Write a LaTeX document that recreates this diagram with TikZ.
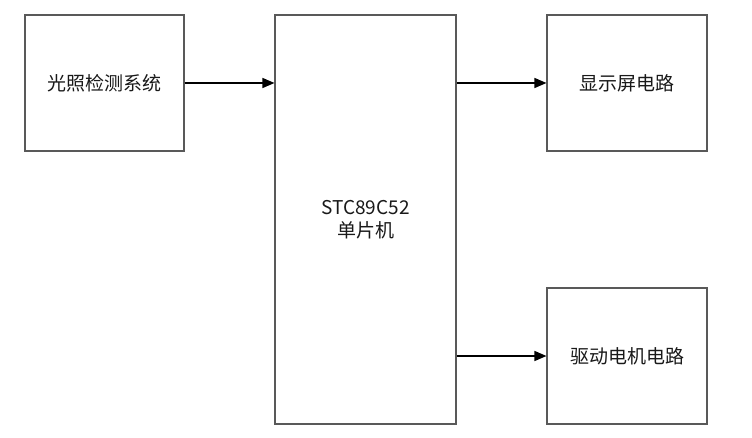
\documentclass[tikz,border=0pt]{standalone}
\usepackage{fontspec}
\setmainfont{Noto Sans CJK SC}
\usetikzlibrary{arrows.meta}
\begin{document}
\begin{tikzpicture}[x=1pt,y=-1pt,
  blk/.style={draw=black!65,line width=1.1pt,fill=white,inner sep=0pt,align=center,
    font=\fontsize{19}{23.5}\selectfont,text=black!90},
  arr/.style={draw=black,line width=1.3pt,-{Triangle[length=12pt,width=10pt]}}]
\useasboundingbox (0,0) rectangle (752,438);
\node[blk,minimum width=159pt,minimum height=136pt] (light) at (104.5,83) {光照检测系统};
\node[blk,minimum width=181pt,minimum height=409pt] (mcu) at (365.5,219.5) {STC89C52\\单片机};
\node[blk,minimum width=160pt,minimum height=136pt] (disp) at (627,83) {显示屏电路};
\node[blk,minimum width=160pt,minimum height=136pt] (motor) at (627,356) {驱动电机电路};
\draw[arr] (light.east) -- (light.east -| mcu.west);
\draw[arr] (mcu.east |- disp.west) -- (disp.west);
\draw[arr] (mcu.east |- motor.west) -- (motor.west);
\end{tikzpicture}
\end{document}
